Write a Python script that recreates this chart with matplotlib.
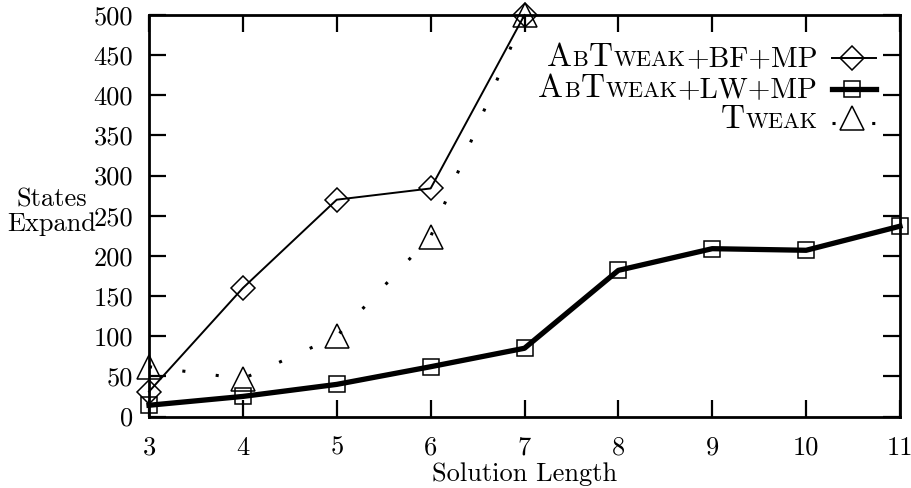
import matplotlib
matplotlib.use("Agg")
import matplotlib.pyplot as plt
from matplotlib.offsetbox import TextArea, HPacker, VPacker, DrawingArea, AnchoredOffsetbox
from matplotlib.lines import Line2D

plt.rcParams['font.family'] = 'cmr10'
plt.rcParams['axes.unicode_minus'] = False
plt.rcParams['mathtext.fontset'] = 'cm'

# data
x_bf = [3, 4, 5, 6, 7]
bf_vals = [31, 160, 270, 284, 500]
x_lw = [3, 4, 5, 6, 7, 8, 9, 10, 11]
lw_vals = [14, 25, 40, 62, 85, 182, 209, 207, 237]
x_tw = [3, 4, 5, 6, 7]
tw_vals = [62, 47, 100, 224, 500]

x_ticks = [3, 4, 5, 6, 7, 8, 9, 10, 11]
y_ticks = list(range(0, 501, 50))

# legend labels as (text, size) pieces to fake small caps
big, mid, small = 24, 21, 16
bf_label = [("A", big), ("B", small), ("T", big), ("WEAK", small), ("+BF+MP", mid)]
lw_label = [("A", big), ("B", small), ("T", big), ("WEAK", small), ("+LW+MP", mid)]
tw_label = [("T", big), ("WEAK", small)]

fig = plt.figure(figsize=(9.12, 4.88), dpi=100)
ax = fig.add_axes([149/912, 1 - 416.5/488, (900 - 149)/912, (416.5 - 15)/488])

tw_dots = (0, (1, 10))
ax.plot(x_bf, bf_vals, color='black', lw=1.4, marker='D', ms=12.5, mfc='none', mew=1.1, clip_on=False, zorder=3)
ax.plot(x_lw, lw_vals, color='black', lw=3.8, marker='s', ms=12, mfc='none', mew=1.1, clip_on=False, zorder=3)
ax.plot(x_tw, tw_vals, color='black', lw=2.2, ls=tw_dots, marker='^', ms=17, mfc='none', mew=1.1, clip_on=False, zorder=3)

ax.set_xlim(3, 11)
ax.set_ylim(0, 500)
ax.set_xticks(x_ticks)
ax.set_yticks(y_ticks)
ax.tick_params(direction='in', length=12, width=1.6, top=True, right=True, labelsize=19, pad=11.5)
ax.tick_params(axis='x', pad=14)
for s in ax.spines.values():
    s.set_linewidth(2)

fig.text(524.5/912, 1 - 474/488, "Solution Length", fontsize=19, ha='center', va='center')
fig.text(52/912, 1 - 212/488, "States\nExpand", fontsize=19, ha='center', va='center', linespacing=1.0)

def make_row(pieces, style):
    texts = [TextArea(t, textprops=dict(fontsize=sz, family='cmr10')) for t, sz in pieces]
    txt = HPacker(children=texts, align="baseline", pad=0, sep=0.5)
    da = DrawingArea(32, 14, 0, 0)
    kw = dict(color='black', clip_on=False)
    if style == 'bf':
        da.add_artist(Line2D([0, 32], [7, 7], lw=1.4, **kw))
        da.add_artist(Line2D([15], [7], marker='D', ms=12.5, mfc='none', mew=1.1, **kw))
    elif style == 'lw':
        da.add_artist(Line2D([0, 32], [7, 7], lw=3.8, **kw))
        da.add_artist(Line2D([15], [7], marker='s', ms=12, mfc='none', mew=1.1, **kw))
    else:
        da.add_artist(Line2D([0, 32], [5, 5], lw=2.2, ls=(0, (1, 12)), **kw))
        da.add_artist(Line2D([15], [8], marker='^', ms=17, mfc='none', mew=1.1, **kw))
    return HPacker(children=[txt, da], align="center", pad=0, sep=10)

rows = VPacker(children=[make_row(bf_label, 'bf'), make_row(lw_label, 'lw'), make_row(tw_label, 'tw')],
               align="right", pad=0, sep=1.5)
anc = AnchoredOffsetbox(loc='upper right', child=rows, frameon=False,
                        bbox_to_anchor=(876/912, 1 - 43/488), bbox_transform=fig.transFigure,
                        borderpad=0, pad=0)
ax.add_artist(anc)

fig.savefig("out.png", dpi=100)
